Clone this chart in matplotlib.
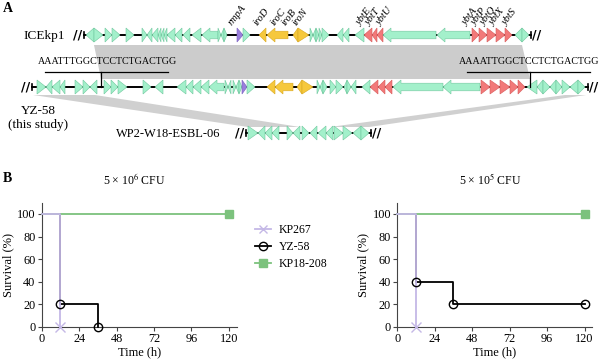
import matplotlib.pyplot as plt
from matplotlib.patches import Polygon
from matplotlib.lines import Line2D

plt.rcParams['font.family'] = ['Liberation Serif', 'DejaVu Serif']
plt.rcParams['mathtext.fontset'] = 'stix'

# ---- panel A data: genes as (start, end, strand, kind) on a common map scale
ice_genes = [(86, 94, -1, 'g'), (94, 103, 1, 'g'), (105, 112, 1, 'g'), (112, 120, 1, 'g'),
             (126, 134, 1, 'g'), (142, 147, 1, 'g'), (147, 152, -1, 'g'), (152, 158, -1, 'g'),
             (158, 161, -1, 'g'), (161, 164, -1, 'g'), (164, 167, -1, 'g'), (167, 175, -1, 'g'),
             (175, 182, -1, 'g'), (183, 190, -1, 'g'), (192, 201, -1, 'g'), (202, 218, -1, 'g'),
             (218, 221, 1, 'g'), (221, 224, -1, 'g'), (224, 227, 1, 'g'), (237, 243, 1, 'v'),
             (243, 250, 1, 'g'), (259, 266, -1, 'y'), (267, 288, -1, 'y'), (293, 298, -1, 'y'),
             (298, 309, 1, 'y'), (310, 313, 1, 'g'), (313, 316, -1, 'g'), (316, 319, 1, 'g'),
             (319, 322, 1, 'g'), (322, 329, 1, 'g'), (337, 343, -1, 'g'), (343, 349, -1, 'g'),
             (355, 364, -1, 'g'), (364, 372, -1, 'r'), (372, 377, -1, 'r'), (377, 383, -1, 'r'),
             (383, 436, -1, 'g'), (437, 470, -1, 'g'), (472, 479, 1, 'r'), (479, 487, 1, 'r'),
             (487, 496, 1, 'r'), (496, 505, 1, 'r'), (505, 512, 1, 'r'), (515, 522, -1, 'g'),
             (522, 529, 1, 'g')]

yz_genes = [(37, 46, 1, 'g'), (46, 52, -1, 'g'), (52, 60, -1, 'g'), (60, 65, -1, 'g'),
            (75, 83, 1, 'g'), (83, 90, 1, 'g'), (90, 97, -1, 'g'), (104, 111, 1, 'g'),
            (111, 118, 1, 'g'), (118, 127, 1, 'g'), (143, 151, 1, 'g'), (155, 163, -1, 'g'),
            (177, 186, -1, 'g'), (186, 193, -1, 'g'), (193, 201, -1, 'g'), (201, 209, -1, 'g'),
            (209, 224, -1, 'g'), (225, 228, 1, 'g'), (228, 231, -1, 'g'), (233, 236, 1, 'g'),
            (236, 239, -1, 'g'), (239, 242, 1, 'g'), (242, 247, 1, 'v'), (247, 255, 1, 'g'),
            (267, 275, -1, 'y'), (275, 293, -1, 'y'), (297, 302, -1, 'y'), (302, 313, 1, 'y'),
            (317, 320, 1, 'g'), (320, 323, -1, 'g'), (323, 327, 1, 'g'), (330, 336, 1, 'g'),
            (336, 343, 1, 'g'), (344, 347, -1, 'g'), (347, 351, 1, 'g'), (351, 356, -1, 'g'),
            (362, 370, -1, 'g'), (370, 378, -1, 'r'), (378, 385, -1, 'r'), (385, 392, -1, 'r'),
            (393, 443, -1, 'g'), (443, 480, -1, 'g'), (481, 490, 1, 'r'), (490, 500, 1, 'r'),
            (500, 510, 1, 'r'), (510, 518, 1, 'r'), (518, 525, 1, 'r'), (527, 537, -1, 'g'),
            (537, 543, -1, 'g'), (543, 550, 1, 'g'), (550, 556, -1, 'g'), (556, 562, 1, 'g'),
            (562, 570, 1, 'g'), (570, 578, -1, 'g'), (578, 585, 1, 'g')]

wp2_genes = [(248, 258, 1, 'g'), (258, 265, -1, 'g'), (265, 272, -1, 'g'), (272, 279, -1, 'g'),
             (287, 293, 1, 'g'), (293, 300, -1, 'g'), (302, 309, 1, 'g'), (310, 317, -1, 'g'),
             (318, 326, -1, 'g'), (326, 333, -1, 'g'), (334, 343, 1, 'g'), (343, 352, 1, 'g'),
             (353, 361, -1, 'g'), (361, 369, 1, 'g')]

gene_names = ['rmpA', 'iroD', 'iroC', 'iroB', 'iroN', 'ybtE', 'ybtT', 'ybtU',
              'ybtA', 'ybtP', 'ybtQ', 'ybtX', 'ybtS']
gene_name_pos = [236, 261, 278, 289, 300, 364, 373, 384, 470, 479, 488, 497, 510]

motif_left = 'AAATTTGGCTCCTCTGACTGG'
motif_right = 'AAAATTGGCTCCTCTGACTGG'

# ---- panel B data: Kaplan-Meier steps
strains = ['KP267', 'YZ-58', 'KP18-208']
hi_time = {'KP267': [0, 12], 'YZ-58': [0, 12, 36], 'KP18-208': [0, 120]}
hi_surv = {'KP267': [100, 0], 'YZ-58': [100, 20, 0], 'KP18-208': [100, 100]}
lo_time = {'KP267': [0, 12], 'YZ-58': [0, 12, 36, 120], 'KP18-208': [0, 120]}
lo_surv = {'KP267': [100, 0], 'YZ-58': [100, 40, 20, 20], 'KP18-208': [100, 100]}
time_ticks = [0, 24, 48, 72, 96, 120]
surv_ticks = [0, 20, 40, 60, 80, 100]

fill = {'g': '#a3f0cb', 'y': '#f6c83c', 'r': '#f27979', 'v': '#9a7fdc'}
edge = {'g': '#70c89e', 'y': '#d9a820', 'r': '#d85a5a', 'v': '#7a5fc0'}


def draw_gene(ax, start, end, strand, y, kind):
    if strand == 1:
        tail, tip = start, end
    else:
        tail, tip = end, start
    if end - start <= 11:
        pts = [(tail, y - 7), (tip, y), (tail, y + 7)]
    else:
        neck = tip - strand * 8
        pts = [(tail, y - 3.8), (neck, y - 3.8), (neck, y - 7), (tip, y),
               (neck, y + 7), (neck, y + 3.8), (tail, y + 3.8)]
    ax.add_patch(Polygon(pts, closed=True, facecolor=fill[kind],
                         edgecolor=edge[kind], linewidth=0.4, zorder=3))


def draw_track(ax, genes, y, left, right):
    ax.plot([left, right], [y, y], color='black', lw=1.4, zorder=2)
    ax.plot([left, left], [y - 3, y + 3], color='black', lw=1.2, zorder=2)
    ax.plot([right, right], [y - 3, y + 3], color='black', lw=1.2, zorder=2)
    ax.text(left - 6, y, '//', fontsize=9, fontweight='bold', ha='center', va='center',
            family='DejaVu Sans')
    ax.text(right + 6, y, '//', fontsize=9, fontweight='bold', ha='center', va='center',
            family='DejaVu Sans')
    for s, e, d, k in genes:
        draw_gene(ax, s, e, d, y, k)


fig = plt.figure(figsize=(6, 3.64), dpi=100)

# panel A drawn on a full-figure axes in pixel-like units
axA = fig.add_axes([0, 0, 1, 1])
axA.set_xlim(0, 600)
axA.set_ylim(364, 0)
axA.axis('off')

axA.add_patch(Polygon([(94, 45), (522, 45), (530, 79), (101, 79)], closed=True,
                      facecolor='#cccccc', edgecolor='none', zorder=1))
axA.add_patch(Polygon([(33, 95), (95, 95), (300, 127), (248, 127)], closed=True,
                      facecolor='#d0d0d0', edgecolor='none', zorder=1))
axA.add_patch(Polygon([(565, 95), (586, 95), (369, 127), (330, 127)], closed=True,
                      facecolor='#d0d0d0', edgecolor='none', zorder=1))

draw_track(axA, ice_genes, 35, 84, 531)
draw_track(axA, yz_genes, 87, 32, 588)
draw_track(axA, wp2_genes, 133, 246, 371)

for name, x in zip(gene_names, gene_name_pos):
    axA.text(x - 2, 27, name, fontsize=7.5, style='italic', rotation=52,
             rotation_mode='anchor', ha='left', va='bottom')

axA.text(44, 36, 'ICEkp1', fontsize=9.5, ha='center', va='center')
axA.text(38, 111, 'YZ-58', fontsize=9.5, ha='center', va='center')
axA.text(38, 125, '(this study)', fontsize=9.5, ha='center', va='center')
axA.text(168, 134, 'WP2-W18-ESBL-06', fontsize=9, ha='center', va='center')

axA.text(108, 66, motif_left, fontsize=7.2, ha='center', va='bottom', zorder=4)
axA.plot([45, 168], [72, 72], color='black', lw=0.9, zorder=4)
axA.plot([101, 101], [72, 87], color='black', lw=0.9, zorder=4)
axA.text(529, 66, motif_right, fontsize=7.2, ha='center', va='bottom', zorder=4)
axA.plot([467, 590], [72, 72], color='black', lw=0.9, zorder=4)
axA.plot([530, 530], [72, 87], color='black', lw=0.9, zorder=4)

axA.text(3, 8, 'A', fontsize=10, fontweight='bold', ha='left', va='center')
axA.text(3, 178, 'B', fontsize=10, fontweight='bold', ha='left', va='center')

# panel B survival curves
line_col = {'KP267': '#c4b8e6', 'YZ-58': 'black', 'KP18-208': '#7cc27d'}
marker = {'KP267': 'x', 'YZ-58': 'o', 'KP18-208': 's'}
mfc = {'KP267': '#c4b8e6', 'YZ-58': 'none', 'KP18-208': '#7cc27d'}
zord = {'KP267': 3.6, 'YZ-58': 3.0, 'KP18-208': 3.2}


def survival_panel(rect, times, survs, title):
    ax = fig.add_axes(rect)
    for st in ['YZ-58', 'KP18-208', 'KP267']:
        t, s = times[st], survs[st]
        ax.step(t, s, where='post', color=line_col[st], lw=1.3, zorder=zord[st], clip_on=False)
        ax.plot(t[1:], s[1:], linestyle='none', marker=marker[st], ms=6 if st != 'KP267' else 6.5,
                mfc=mfc[st], mec=line_col[st], mew=1.0, zorder=5, clip_on=False)
    ax.set_xlim(0, 125)
    ax.set_ylim(0, 110)
    ax.set_xticks(time_ticks)
    ax.set_yticks(surv_ticks)
    ax.spines['top'].set_visible(False)
    ax.spines['right'].set_visible(False)
    for sp in ['left', 'bottom']:
        ax.spines[sp].set_color('#444444')
        ax.spines[sp].set_linewidth(0.8)
    ax.tick_params(labelsize=8.8, length=3, width=0.8, color='#444444', pad=1.5)
    ax.set_xlabel('Time (h)', fontsize=9, labelpad=1)
    ax.set_ylabel('Survival (%)', fontsize=9, labelpad=2)
    fig.text(rect[0] + 0.155, 1 - 179 / 364, title, fontsize=8.5, ha='center', va='center')
    return ax


survival_panel([41.7 / 600, 37.3 / 364, 0.325, 0.3407], hi_time, hi_surv,
               '5 × 10$^{6}$ CFU')
survival_panel([397.3 / 600, 37.3 / 364, 0.325, 0.3407], lo_time, lo_surv,
               '5 × 10$^{5}$ CFU')

handles = [Line2D([], [], color=line_col[st], marker=marker[st], mfc=mfc[st],
                  mec=line_col[st], lw=1.3, ms=6) for st in strains]
fig.legend(handles, strains, loc='center left', bbox_to_anchor=(250 / 600, 1 - 247 / 364),
           frameon=False, fontsize=8.5, handlelength=1.4, handletextpad=0.6,
           labelspacing=0.4, borderaxespad=0)

fig.savefig('out.png', dpi=100)
